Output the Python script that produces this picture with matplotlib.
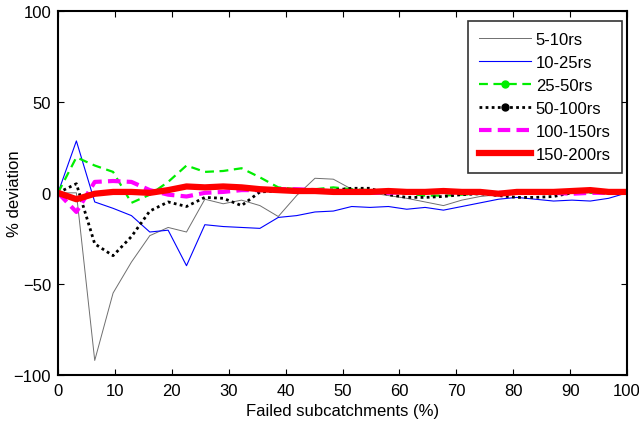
import numpy as np
import matplotlib
matplotlib.use("Agg")
import matplotlib.pyplot as plt
from matplotlib.lines import Line2D

plt.rcParams['font.family'] = ['Liberation Sans', 'DejaVu Sans']

# x positions: 32 points from 0 to 100 % failed subcatchments
n_pts = 32
x = np.linspace(0, 100, n_pts)

s_5_10 = [0, 0, -92, -55, -38, -23.5, -19, -21.5, -3.5, -6, -4, -7, -13, -1.5, 8, 7.5,
          2, 0, -1.5, -3, -5, -7, -4, -2, -1, 0, 0, 0, 0, 0, 0, 0]
s_10_25 = [0, 28.5, -5, -8.5, -12.5, -21.5, -20.5, -40, -17.5, -18.5, -19, -19.5, -13.5, -12.5, -10.5, -10,
           -7.5, -8, -7.5, -9, -8, -9.5, -7.5, -5.5, -3.5, -2.5, -3.5, -4.5, -4, -4.5, -3, 0]
s_25_50 = [0, 19.5, 15, 11.5, -5.5, -1, 6, 15, 11.5, 12, 13.5, 8.5, 3, 2, 2, 3,
           2, 1.5, 0.5, -0.5, -1.5, -1.5, -1, -0.5, 0, 0, 0, 0, 0, 0, 0, 0]
s_50_100 = [0, 5, -28, -34.5, -24, -10, -5, -7.5, -2.5, -3, -7, 0.5, 1, 1, 1, 1.5,
            2.5, 2.5, -1, -2.5, -2.5, -2, -1, -0.5, -1.5, -2.5, -2.5, -2, 0, 1.5, 0.5, 0]
s_100_150 = [0, -10.5, 6, 6.5, 6, 1.5, -1, -2, 0, 0.5, 1.5, 1.5, 2, 2, 1.5, 1,
             0.5, 0, 0, 0.5, 0.5, 0.5, 0, 0, 0, 0, 0, 0, -0.5, 0, 0, 0]
s_150_200 = [0, -3.5, -0.5, 0.5, 0.5, 0, 1.5, 3.5, 3, 3.5, 3, 2, 1.5, 1, 1, 0.5,
             0.5, 0.5, 1, 0.5, 0.5, 1, 0.5, 0.5, -0.5, 0.5, 0.5, 0.5, 1, 1.5, 0.5, 0.5]

labels = ['5-10rs', '10-25rs', '25-50rs', '50-100rs', '100-150rs', '150-200rs']
series = [s_5_10, s_10_25, s_25_50, s_50_100, s_100_150, s_150_200]
styles = [
    dict(color='#6f6f6f', lw=0.7, ls='-'),
    dict(color='#0000ff', lw=0.8, ls='-'),
    dict(color='#00ee00', lw=1.6, ls=(0, (4, 2.5))),
    dict(color='black', lw=2.0, ls=(0, (1, 1.2))),
    dict(color='#ff00ff', lw=3.0, ls=(0, (3, 1.5))),
    dict(color='#ff0000', lw=4.5, ls='-'),
]
markers = [None, None, 'o', 'o', None, None]

fig = plt.figure(figsize=(6.39, 4.31), dpi=100)
ax = fig.add_axes([0.0908, 0.1276, 0.8904, 0.8453])

for s, st in zip(series, styles):
    ax.plot(x, s, solid_capstyle='butt', dash_capstyle='butt', **st)

ax.set_xlim(0, 100)
ax.set_ylim(-100, 100)
ax.set_xticks(np.arange(0, 101, 10))
ax.set_yticks([-100, -50, 0, 50, 100])
ax.tick_params(direction='in', top=True, right=True, labelsize=12, length=4, width=0.8)
ax.tick_params(axis='x', pad=6)
ax.tick_params(axis='y', pad=5)
for sp in ax.spines.values():
    sp.set_linewidth(1.5)
ax.set_xlabel('Failed subcatchments (%)', fontsize=12, labelpad=3)
ax.set_ylabel('% deviation', fontsize=12)
ax.yaxis.set_label_coords(-0.064, 0.5)

handles = []
for st, mk in zip(styles, markers):
    handles.append(Line2D([], [], marker=mk, markersize=5, markerfacecolor=st['color'],
                          markeredgecolor=st['color'], **st))
leg = ax.legend(handles, labels, loc='upper right', bbox_to_anchor=(0.991, 0.9718),
                fontsize=12, frameon=True, fancybox=False,
                edgecolor='black', handlelength=3.1, numpoints=1, labelspacing=0.48,
                borderaxespad=0.0, handletextpad=0.3, borderpad=0.66)
leg.get_frame().set_linewidth(1.2)

fig.savefig('out.png', dpi=100)
